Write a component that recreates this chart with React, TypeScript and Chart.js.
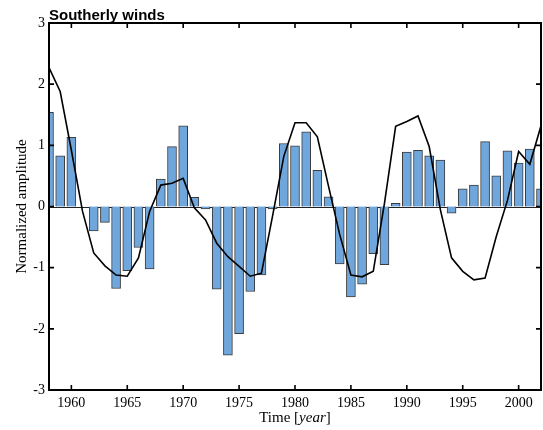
import React, { useEffect, useRef } from "react";
import { Chart, registerables } from "chart.js";

Chart.register(...registerables);

const years = [
  1958, 1959, 1960, 1961, 1962, 1963, 1964, 1965, 1966, 1967,
  1968, 1969, 1970, 1971, 1972, 1973, 1974, 1975, 1976, 1977,
  1978, 1979, 1980, 1981, 1982, 1983, 1984, 1985, 1986, 1987,
  1988, 1989, 1990, 1991, 1992, 1993, 1994, 1995, 1996, 1997,
  1998, 1999, 2000, 2001, 2002,
];

const barValues = [
  1.54, 0.83, 1.13, 0.0, -0.4, -0.26, -1.34, -1.05, -0.67, -1.02,
  0.45, 0.98, 1.32, 0.15, -0.04, -1.35, -2.43, -2.08, -1.39, -1.12,
  -0.04, 1.03, 0.99, 1.22, 0.59, 0.16, -0.94, -1.48, -1.27, -0.77,
  -0.95, 0.05, 0.89, 0.92, 0.83, 0.76, -0.11, 0.29, 0.35, 1.06,
  0.5, 0.91, 0.71, 0.94, 0.29,
];

const lineValues = [
  2.27, 1.88, 0.92, -0.08, -0.76, -0.97, -1.12, -1.14, -0.84, -0.08,
  0.35, 0.38, 0.46, -0.02, -0.22, -0.6, -0.82, -0.98, -1.14, -1.09,
  -0.15, 0.82, 1.37, 1.37, 1.14, 0.33, -0.46, -1.12, -1.15, -1.06,
  0.05, 1.31, 1.39, 1.48, 0.98, -0.05, -0.84, -1.06, -1.2, -1.17,
  -0.49, 0.1, 0.9, 0.69, 1.32,
];

const xTicks = [1960, 1965, 1970, 1975, 1980, 1985, 1990, 1995, 2000];
const yTicks = [-3, -2, -1, 0, 1, 2, 3];

const titleText = "Southerly winds";
const yTitle = "Normalized amplitude";

const decorPlugin = {
  id: "decor",
  beforeDatasetsDraw(chart: any) {
    const { ctx, chartArea } = chart;
    const y0 = chart.scales.y.getPixelForValue(0);
    ctx.save();
    ctx.strokeStyle = "#222";
    ctx.lineWidth = 1;
    ctx.beginPath();
    ctx.moveTo(chartArea.left, Math.round(y0) + 0.5);
    ctx.lineTo(chartArea.right, Math.round(y0) + 0.5);
    ctx.stroke();
    ctx.restore();
  },
  afterDraw(chart: any) {
    const { ctx, chartArea } = chart;
    const { left, right, top, bottom } = chartArea;
    const xs = chart.scales.x;
    const ys = chart.scales.y;
    ctx.save();
    ctx.strokeStyle = "#000";
    ctx.lineWidth = 2;
    ctx.strokeRect(left, top, right - left, bottom - top);
    ctx.lineWidth = 1.6;
    ctx.beginPath();
    xTicks.forEach((v) => {
      const px = xs.getPixelForValue(v);
      ctx.moveTo(px, bottom);
      ctx.lineTo(px, bottom - 5);
      ctx.moveTo(px, top);
      ctx.lineTo(px, top + 5);
    });
    yTicks.forEach((v) => {
      if (v === -3 || v === 3) return;
      const py = ys.getPixelForValue(v);
      ctx.moveTo(left, py);
      ctx.lineTo(left + 5, py);
      ctx.moveTo(right, py);
      ctx.lineTo(right - 5, py);
    });
    ctx.stroke();

    // title
    ctx.fillStyle = "#000";
    ctx.font = "bold 15px 'Liberation Sans', Arial, sans-serif";
    ctx.textAlign = "left";
    ctx.textBaseline = "alphabetic";
    ctx.fillText(titleText, left, 19.5);

    // x title with italic part
    const partA = "Time [";
    const partB = "year";
    const partC = "]";
    const normal = "15px 'Liberation Serif', 'Times New Roman', serif";
    const italic = "italic 15px 'Liberation Serif', 'Times New Roman', serif";
    ctx.font = normal;
    const wA = ctx.measureText(partA).width;
    const wC = ctx.measureText(partC).width;
    ctx.font = italic;
    const wB = ctx.measureText(partB).width;
    const total = wA + wB + wC;
    let sx = (left + right) / 2 - total / 2;
    const by = 422;
    ctx.font = normal;
    ctx.fillText(partA, sx, by);
    sx += wA;
    ctx.font = italic;
    ctx.fillText(partB, sx, by);
    sx += wB;
    ctx.font = normal;
    ctx.fillText(partC, sx, by);

    // y title
    ctx.translate(22, (top + bottom) / 2);
    ctx.rotate(-Math.PI / 2);
    ctx.font = normal;
    ctx.textAlign = "center";
    ctx.textBaseline = "middle";
    ctx.fillText(yTitle, 0, 0);
    ctx.restore();
  },
};

export default function App() {
  const ref = useRef<HTMLCanvasElement>(null);
  useEffect(() => {
    if (!ref.current) return;
    Chart.defaults.font.family = "'Liberation Serif', 'Times New Roman', serif";
    const chart = new Chart(ref.current, {
      type: "bar",
      data: {
        datasets: [
          {
            type: "line",
            data: years.map((y, i) => ({ x: y, y: lineValues[i] })),
            borderColor: "#000",
            borderWidth: 1.6,
            pointRadius: 0,
            tension: 0,
            fill: false,
            order: 0,
            clip: 0,
          } as any,
          {
            type: "bar",
            data: years.map((y, i) => ({ x: y, y: barValues[i] })),
            backgroundColor: "rgb(111,166,220)",
            borderColor: "#3c3c3c",
            borderWidth: 1,
            barThickness: 9,
            order: 1,
            clip: 0,
          } as any,
        ],
      },
      options: {
        responsive: false,
        animation: false,
        layout: { padding: { top: 23, right: 2, left: 0, bottom: 0 } },
        plugins: {
          legend: { display: false },
          tooltip: { enabled: false },
          title: { display: false },
        },
        scales: {
          x: {
            type: "linear",
            min: 1958,
            max: 2002,
            offset: false,
            grid: { display: false, drawTicks: false, offset: false },
            border: { display: false },
            afterBuildTicks: (scale: any) => {
              scale.ticks = xTicks.map((v) => ({ value: v }));
            },
            afterFit: (scale: any) => {
              scale.height = 40;
            },
            ticks: {
              autoSkip: false,
              maxRotation: 0,
              padding: 5,
              color: "#000",
              font: { size: 14, family: "'Liberation Serif', 'Times New Roman', serif" },
              callback: (v: any) => String(v),
            },
          },
          y: {
            type: "linear",
            min: -3,
            max: 3,
            grid: { display: false, drawTicks: false },
            border: { display: false },
            afterBuildTicks: (scale: any) => {
              scale.ticks = yTicks.map((v) => ({ value: v }));
            },
            afterFit: (scale: any) => {
              scale.width = 49;
            },
            ticks: {
              padding: 4,
              color: "#000",
              font: { size: 14, family: "'Liberation Serif', 'Times New Roman', serif" },
              callback: (v: any) => String(v),
            },
          },
        },
      },
      plugins: [decorPlugin],
    });
    return () => chart.destroy();
  }, []);
  return (
    <div style={{ position: "absolute", left: 0, top: 0, width: 543, height: 430, background: "#fff" }}>
      <canvas ref={ref} width={543} height={430} style={{ display: "block" }} />
    </div>
  );
}
